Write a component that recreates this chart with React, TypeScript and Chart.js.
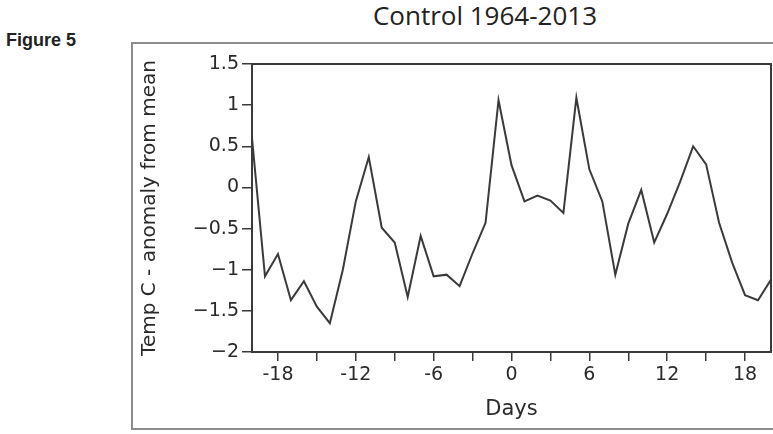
import React, { useEffect, useRef } from "react";
import { Chart, registerables } from "chart.js";

Chart.register(...registerables);

const days: number[] = [
  -20, -19, -18, -17, -16, -15, -14, -13, -12, -11, -10, -9, -8, -7, -6, -5, -4, -3, -2, -1,
  0, 1, 2, 3, 4, 5, 6, 7, 8, 9, 10, 11, 12, 13, 14, 15, 16, 17, 18, 19, 20,
];
const anomaly: number[] = [
  0.6, -1.08, -0.81, -1.37, -1.14, -1.45, -1.65, -1.0, -0.17, 0.37, -0.49, -0.67, -1.33, -0.59, -1.08, -1.06, -1.2, -0.8, -0.43, 1.06,
  0.27, -0.17, -0.1, -0.16, -0.31, 1.09, 0.22, -0.17, -1.06, -0.44, -0.03, -0.67, -0.32, 0.07, 0.5, 0.28, -0.43, -0.91, -1.31, -1.37, -1.12,
];
const xTickValues: number[] = [-18, -15, -12, -9, -6, -3, 0, 3, 6, 9, 12, 15, 18];
const xLabelled: number[] = [-18, -12, -6, 0, 6, 12, 18];
const yTickValues: number[] = [-2, -1.5, -1, -0.5, 0, 0.5, 1, 1.5];

const TEXT = "#2a2a2a";
const AXIS = "#3a3a3a";

const frameBox = {
  id: "frameBox",
  afterDatasetsDraw(chart: any) {
    const { ctx, chartArea } = chart;
    ctx.save();
    ctx.strokeStyle = AXIS;
    ctx.lineWidth = 2;
    ctx.strokeRect(chartArea.left, chartArea.top, chartArea.right - chartArea.left, chartArea.bottom - chartArea.top);
    ctx.restore();
  },
};

export default function App() {
  const ref = useRef<HTMLCanvasElement | null>(null);
  useEffect(() => {
    if (!ref.current) return;
    const chart = new Chart(ref.current, {
      type: "line",
      data: {
        datasets: [
          {
            data: days.map((d, i) => ({ x: d, y: anomaly[i] })),
            borderColor: "#3a3a3a",
            borderWidth: 2,
            pointRadius: 0,
            tension: 0,
            fill: false,
          },
        ],
      },
      options: {
        animation: false,
        responsive: false,
        maintainAspectRatio: false,
        layout: { padding: { left: 138, top: 64, right: 2, bottom: 12 } },
        plugins: { legend: { display: false }, tooltip: { enabled: false }, title: { display: false } },
        scales: {
          x: {
            type: "linear",
            min: -20,
            max: 20,
            afterFit: (s: any) => {
              s.height = 70;
            },
            afterBuildTicks: (s: any) => {
              s.ticks = xTickValues.map((v) => ({ value: v }));
            },
            border: { display: true, color: AXIS, width: 2 },
            grid: { drawOnChartArea: false, drawTicks: true, tickLength: 9, color: AXIS, lineWidth: 1.5 },
            ticks: {
              autoSkip: false,
              maxRotation: 0,
              padding: 3,
              color: TEXT,
              font: { family: "DejaVu Sans", size: 19 },
              callback: (v: any) => (xLabelled.includes(Number(v)) ? String(v) : ""),
            },
            title: {
              display: true,
              text: "Days",
              color: TEXT,
              font: { family: "DejaVu Sans", size: 21 },
              padding: { top: 0, bottom: 0 },
            },
          },
          y: {
            type: "linear",
            min: -2,
            max: 1.5,
            afterFit: (s: any) => {
              s.width = 114;
            },
            afterBuildTicks: (s: any) => {
              s.ticks = yTickValues.map((v) => ({ value: v }));
            },
            border: { display: true, color: AXIS, width: 2 },
            grid: { drawOnChartArea: false, drawTicks: true, tickLength: 10, color: AXIS, lineWidth: 1.5 },
            ticks: {
              autoSkip: false,
              padding: 3,
              color: TEXT,
              font: { family: "DejaVu Sans", size: 19 },
              callback: (v: any) => String(v).replace("-", "\u2212"),
            },
            title: {
              display: true,
              text: "Temp C - anomaly from mean",
              color: TEXT,
              font: { family: "DejaVu Sans", size: 20 },
              padding: { top: 0, bottom: 0 },
            },
          },
        },
      },
      plugins: [frameBox],
    });
    return () => chart.destroy();
  }, []);

  return (
    <div style={{ position: "fixed", left: 0, top: 0, width: 773, height: 434, overflow: "hidden", background: "#fff" }}>
      <div
        style={{
          position: "absolute",
          left: 131,
          top: 42,
          width: 700,
          height: 388,
          border: "2px solid #8c8c8c",
          boxSizing: "border-box",
        }}
      />
      <div
        style={{
          position: "absolute",
          left: 6,
          top: 30,
          fontFamily: "'Liberation Sans', Arial, sans-serif",
          fontWeight: "bold",
          fontSize: 18,
          color: "#222",
          lineHeight: "20px",
        }}
      >
        Figure 5
      </div>
      <div
        style={{
          position: "absolute",
          left: 0,
          width: 970,
          top: -1,
          textAlign: "center",
          fontFamily: "'Open Sans', sans-serif",
          fontSize: 26,
          color: "#222",
          lineHeight: "32px",
        }}
      >
        Control 1964-2013
      </div>
      <canvas ref={ref} width={773} height={434} style={{ position: "absolute", left: 0, top: 0, width: 773, height: 434 }} />
    </div>
  );
}
